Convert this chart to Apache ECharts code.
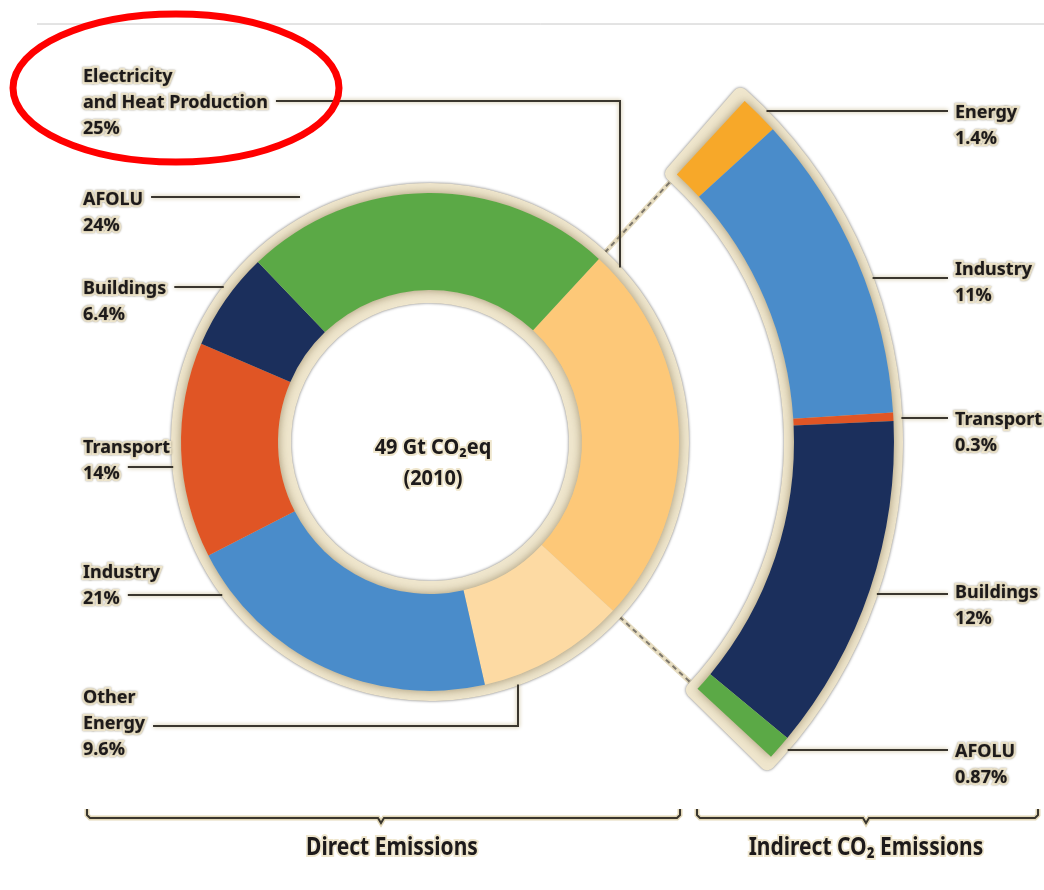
<!DOCTYPE html>
<html><head><meta charset="utf-8">
<script src="https://cdn.jsdelivr.net/npm/echarts@6/dist/echarts.min.js"></script>
<style>html,body{margin:0;padding:0;background:#fff}#main{width:1044px;height:890px}</style>
</head><body><div id="main"></div>
<script>
// ---------------- data ----------------
const directNames = ['Electricity\nand Heat Production', 'Other\nEnergy', 'Industry', 'Transport', 'Buildings', 'AFOLU'];
const directValues = [25, 9.6, 21, 14, 6.4, 24];
const indirectNames = ['Energy', 'Industry', 'Transport', 'Buildings', 'AFOLU'];
const indirectValues = [1.4, 11, 0.3, 12, 0.87];
const centerLines = ['49 Gt CO\u2082eq', '(2010)'];
const groupTitles = ['Direct Emissions', 'Indirect CO\u2082 Emissions'];

// ---------------- style / layout ----------------
const directColors = ['#FDC878', '#FDDAA3', '#4A8CCA', '#E05525', '#1B2F5C', '#5BA946'];
const indirectColors = ['#F7A829', '#4A8CCA', '#E05525', '#1B2F5C', '#5BA946'];
const CX = 430, CY = 442;
const R_IN = 152, R_OUT = 249;
const ARC_IN = 364, ARC_OUT = 464;
const START = 47.3;
const CREAM = '#EFE6CD';
const INK = '#1d1a1b';
const FONT = 'Noto Sans';
const FS = 18, LH = 26;
const RC = R_OUT + 9;
const RA = ARC_OUT + 8;

const directLabelPos = [
  {x: 83, top: 64,  row: 1, lineY: 101, route: 'down', cornerX: 620},
  {x: 83, top: 685, row: 1, lineY: 726, route: 'up', cornerX: 518},
  {x: 83, top: 560, row: 1, lineY: 595},
  {x: 83, top: 435, row: 1, lineY: 467},
  {x: 83, top: 276, row: 0, lineY: 287},
  {x: 83, top: 187, row: 0, lineY: 197, endX: 300}
];
const indirectLabelPos = [
  {top: 100, lineY: 111},
  {top: 257, lineY: 278},
  {top: 407, lineY: 418},
  {top: 580, lineY: 594},
  {top: 739, lineY: 750}
];
const RIGHT_X = 955, RIGHT_LINE_END = 948;

const mctx = document.createElement('canvas').getContext('2d');
function textW(s) { mctx.font = 'bold ' + FS + 'px "' + FONT + '"'; return mctx.measureText(s).width; }
function rad(d) { return d * Math.PI / 180; }
function polar(r, deg) { return [CX + r * Math.cos(rad(deg)), CY - r * Math.sin(rad(deg))]; }

const total = directValues.reduce((a, b) => a + b, 0);
const elecSpan = 360 * directValues[0] / total;
const arcStart = START, arcEnd = START - elecSpan;

function directLayout(p) {
  const L = directLabelPos[p.dataIndex];
  const rows = (directNames[p.dataIndex] + '\n' + directValues[p.dataIndex] + '%').split('\n');
  const sx = L.x + textW(rows[L.row]) + 8;
  let pts;
  if (L.route === 'down') {
    const ry = CY - Math.sqrt(RC * RC - (L.cornerX - CX) ** 2);
    pts = [[L.cornerX, ry], [L.cornerX, L.lineY], [sx, L.lineY]];
  } else if (L.route === 'up') {
    const ry = CY + Math.sqrt(RC * RC - (L.cornerX - CX) ** 2);
    pts = [[L.cornerX, ry], [L.cornerX, L.lineY], [sx, L.lineY]];
  } else {
    const ex = L.endX != null ? L.endX : CX - Math.sqrt(RC * RC - (L.lineY - CY) ** 2);
    pts = [[ex, L.lineY], [(ex + sx) / 2, L.lineY], [sx, L.lineY]];
  }
  return {x: L.x, y: L.top, align: 'left', verticalAlign: 'top', labelLinePoints: pts};
}
function indirectLayout(p) {
  const L = indirectLabelPos[p.dataIndex];
  const ex = CX + Math.sqrt(RA * RA - (L.lineY - CY) ** 2);
  const pts = [[ex, L.lineY], [(ex + RIGHT_LINE_END) / 2, L.lineY], [RIGHT_LINE_END, L.lineY]];
  return {x: RIGHT_X, y: L.top, align: 'left', verticalAlign: 'top', labelLinePoints: pts};
}

const labelCommon = {
  show: true, position: 'outside', formatter: '{b}\n{c}%',
  fontFamily: FONT, fontWeight: 'bold', fontSize: FS, lineHeight: LH, color: INK,
  textBorderColor: CREAM, textBorderWidth: 4,
  textShadowColor: 'rgba(90,80,50,0.6)', textShadowBlur: 2
};
const labelLineCommon = {
  show: true, smooth: false,
  lineStyle: {color: '#3a362e', width: 2, shadowColor: 'rgba(190,175,130,1)', shadowBlur: 4}
};
const noLabel = {show: false};
const plain = {disabled: true};

const series = [
  { type: 'pie', z: 1, silent: true, center: [CX, CY], radius: [R_IN - 13, R_OUT + 10], startAngle: START,
    label: noLabel, labelLine: noLabel, emphasis: plain,
    itemStyle: {color: CREAM, shadowBlur: 3, shadowColor: 'rgba(0,0,0,0.55)'},
    data: [{value: total, name: 'back'}] },
  { type: 'pie', z: 2, silent: true, center: [CX, CY], radius: [R_IN, R_OUT], startAngle: START,
    label: noLabel, labelLine: noLabel, emphasis: plain,
    itemStyle: {color: '#cfc4a6', shadowBlur: 10, shadowColor: 'rgba(110,90,50,0.6)'},
    data: [{value: total, name: 'shade'}] },
  { type: 'pie', z: 3, silent: true, center: [CX, CY], radius: [R_IN, R_OUT], startAngle: START, clockwise: true,
    avoidLabelOverlap: false, emphasis: plain,
    label: labelCommon, labelLine: labelLineCommon, labelLayout: directLayout,
    data: directNames.map((n, i) => ({name: n, value: directValues[i], itemStyle: {color: directColors[i]}})) },
  { type: 'pie', z: 1, silent: true, center: [CX, CY], radius: [ARC_IN - 10, ARC_OUT + 9],
    startAngle: arcStart + 1.8, endAngle: arcEnd - 1.8,
    label: noLabel, labelLine: noLabel, emphasis: plain,
    itemStyle: {color: CREAM, borderRadius: 8, shadowBlur: 3, shadowColor: 'rgba(0,0,0,0.55)'},
    data: [{value: total, name: 'arcback'}] },
  { type: 'pie', z: 2, silent: true, center: [CX, CY], radius: [ARC_IN, ARC_OUT],
    startAngle: arcStart, endAngle: arcEnd,
    label: noLabel, labelLine: noLabel, emphasis: plain,
    itemStyle: {color: '#cfc4a6', shadowBlur: 10, shadowColor: 'rgba(110,90,50,0.6)'},
    data: [{value: total, name: 'arcshade'}] },
  { type: 'pie', z: 3, silent: true, center: [CX, CY], radius: [ARC_IN, ARC_OUT],
    startAngle: arcStart, endAngle: arcEnd, clockwise: true,
    avoidLabelOverlap: false, emphasis: plain,
    label: labelCommon, labelLine: labelLineCommon, labelLayout: indirectLayout,
    data: indirectNames.map((n, i) => ({name: n, value: indirectValues[i], itemStyle: {color: indirectColors[i]}})) }
];

// connector (dashed) lines along the electricity slice edges
function connector(deg) {
  const a = polar(RC, deg), b = polar(ARC_IN - 10, deg);
  return [
    {type: 'line', z: 0, shape: {x1: a[0], y1: a[1], x2: b[0], y2: b[1]}, style: {stroke: '#e6dcc0', lineWidth: 5}},
    {type: 'line', z: 0, shape: {x1: a[0], y1: a[1], x2: b[0], y2: b[1]}, style: {stroke: '#7d776b', lineWidth: 2, lineDash: [5, 4]}}
  ];
}
function bracket(x1, x2, xm, y) {
  const pts = [[x1, y - 9], [x1, y - 3], [x1 + 3, y], [xm - 3, y], [xm, y + 5], [xm + 3, y], [x2 - 3, y], [x2, y - 3], [x2, y - 9]];
  return [
    {type: 'polyline', z: 10, shape: {points: pts}, style: {stroke: '#e3d8b8', lineWidth: 5, fill: null}},
    {type: 'polyline', z: 11, shape: {points: pts}, style: {stroke: '#3a362e', lineWidth: 2, fill: null}}
  ];
}
function haloText(x, y, text, size, lh, sx) {
  return {type: 'text', z: 50, x: x, y: y, scaleX: sx || 1,
    style: {text: text, align: 'center', verticalAlign: 'middle', fontFamily: FONT, fontWeight: 'bold',
      fontSize: size, lineHeight: lh, fill: INK, stroke: CREAM, lineWidth: 4,
      shadowColor: 'rgba(90,80,50,0.6)', shadowBlur: 2}};
}

const graphic = [].concat(
  [{type: 'line', z: 0, shape: {x1: 37, y1: 24, x2: 1044, y2: 24}, style: {stroke: '#c8c8c8', lineWidth: 1}}],
  connector(arcStart), connector(arcEnd),
  bracket(87, 680, 381, 818), bracket(697, 1038, 866, 818),
  [haloText(CX + 3, CY + 22, centerLines.join('\n'), 21, 31, 0.95),
   haloText(392, 848, groupTitles[0], 25, 28, 0.84),
   haloText(866, 848, groupTitles[1], 25, 28, 0.84),
   {type: 'ellipse', z: 100, shape: {cx: 176, cy: 88, rx: 163, ry: 74},
    style: {fill: 'rgba(0,0,0,0)', stroke: '#ff0000', lineWidth: 7}}]
);

const chart = echarts.init(document.getElementById('main'), null, {renderer: 'canvas'});
chart.setOption({animation: false, backgroundColor: '#ffffff', series: series, graphic: graphic});
</script>
</body></html>
